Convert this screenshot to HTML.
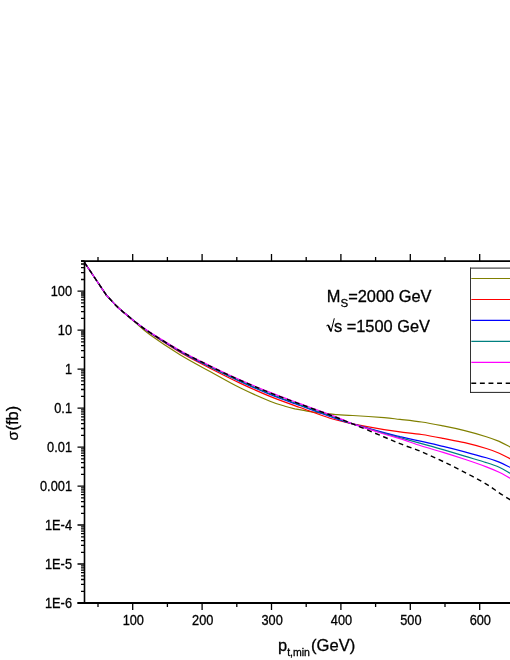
<!DOCTYPE html>
<html><head><meta charset="utf-8"><style>html,body{margin:0;padding:0;background:#fff;width:510px;height:660px;overflow:hidden}svg{will-change:transform}text{stroke:#000;stroke-width:0.3px}</style></head><body>
<svg width="510" height="660" viewBox="0 0 510 660" style="position:absolute;left:0;top:0">
<rect width="510" height="660" fill="#fff"/>
<path d="M84.5,262.5 L106.5,295.3 C108.1,297.0 112.7,302.2 116.0,305.5 C119.3,308.8 123.3,312.1 126.6,315.0 C129.9,317.9 132.1,319.8 136.0,323.1 C139.9,326.4 142.7,329.5 150.0,334.8 C157.3,340.1 170.0,348.6 180.0,354.7 C190.0,360.8 200.0,366.0 210.0,371.5 C220.0,377.0 230.0,382.9 240.0,387.8 C250.0,392.8 262.5,398.1 270.0,401.2 C277.5,404.3 280.8,404.9 285.0,406.2 C289.2,407.5 291.7,408.1 295.0,408.9 C298.3,409.6 300.6,410.0 305.0,410.7 C309.4,411.4 316.1,412.5 321.4,413.2 C326.7,413.9 331.8,414.2 337.0,414.6 C342.2,415.0 344.8,415.0 352.7,415.5 C360.6,416.0 376.2,417.0 384.1,417.6 C392.0,418.2 393.8,418.7 400.0,419.4 C406.2,420.1 414.4,420.9 421.6,422.0 C428.8,423.1 435.9,424.5 443.1,425.9 C450.3,427.3 457.5,428.8 464.7,430.6 C471.9,432.4 480.6,434.9 486.3,436.7 C492.1,438.5 495.2,439.7 499.2,441.4 C503.1,443.1 507.5,445.7 510.0,447.0 C512.5,448.3 513.3,448.9 514.0,449.3" fill="none" stroke="#808000" stroke-width="1.2" stroke-linejoin="round"/>
<path d="M84.5,262.5 L106.5,295.3 C108.1,297.0 112.7,302.2 116.0,305.5 C119.3,308.8 123.3,312.0 126.6,314.8 C129.9,317.6 132.1,319.5 136.0,322.5 C139.9,325.5 142.7,328.1 150.0,333.1 C157.3,338.0 170.0,346.4 180.0,352.3 C190.0,358.1 200.0,363.1 210.0,368.2 C220.0,373.3 230.0,378.4 240.0,383.1 C250.0,387.8 260.0,392.3 270.0,396.4 C280.0,400.5 290.0,403.9 300.0,407.5 C310.0,411.1 322.5,415.8 330.0,418.2 C337.5,420.6 341.2,421.1 345.0,422.1 C348.8,423.0 346.2,422.6 352.7,423.9 C359.2,425.2 376.2,428.3 384.1,429.6 C392.0,430.9 393.8,431.1 400.0,431.9 C406.2,432.7 414.4,433.4 421.6,434.5 C428.8,435.6 435.9,437.0 443.1,438.4 C450.3,439.8 457.5,441.0 464.7,442.7 C471.9,444.4 480.6,446.8 486.3,448.5 C492.1,450.2 495.2,451.5 499.2,453.2 C503.1,454.9 507.5,457.4 510.0,458.7 C512.5,460.0 513.3,460.8 514.0,461.2" fill="none" stroke="#ff0000" stroke-width="1.2" stroke-linejoin="round"/>
<path d="M84.5,262.5 L106.5,295.3 C108.1,297.0 112.7,302.2 116.0,305.5 C119.3,308.8 123.3,312.0 126.6,314.8 C129.9,317.6 132.1,319.5 136.0,322.5 C139.9,325.5 142.7,327.8 150.0,332.7 C157.3,337.5 170.0,345.7 180.0,351.4 C190.0,357.1 200.0,362.0 210.0,367.0 C220.0,372.0 230.0,376.8 240.0,381.4 C250.0,386.0 260.0,390.4 270.0,394.4 C280.0,398.4 290.0,401.8 300.0,405.5 C310.0,409.2 322.5,413.8 330.0,416.5 C337.5,419.2 341.2,420.3 345.0,421.6 C348.8,422.8 346.2,422.0 352.7,423.9 C359.2,425.8 376.2,430.6 384.1,432.7 C392.0,434.8 393.8,435.2 400.0,436.7 C406.2,438.1 414.4,439.8 421.6,441.4 C428.8,443.0 435.9,444.7 443.1,446.4 C450.3,448.1 457.5,449.9 464.7,451.8 C471.9,453.7 480.6,456.1 486.3,457.8 C492.1,459.5 495.2,460.5 499.2,462.1 C503.1,463.7 507.5,466.1 510.0,467.3 C512.5,468.5 513.3,469.0 514.0,469.3" fill="none" stroke="#0000ff" stroke-width="1.2" stroke-linejoin="round"/>
<path d="M84.5,262.5 L106.5,295.3 C108.1,297.0 112.7,302.2 116.0,305.5 C119.3,308.8 123.3,312.0 126.6,314.8 C129.9,317.6 132.1,319.5 136.0,322.5 C139.9,325.5 142.7,327.8 150.0,332.6 C157.3,337.3 170.0,345.4 180.0,351.1 C190.0,356.7 200.0,361.6 210.0,366.6 C220.0,371.6 230.0,376.4 240.0,380.9 C250.0,385.4 260.0,389.7 270.0,393.7 C280.0,397.7 290.0,401.2 300.0,404.9 C310.0,408.6 322.5,413.1 330.0,415.8 C337.5,418.5 341.2,419.9 345.0,421.3 C348.8,422.6 346.2,421.9 352.7,423.9 C359.2,425.9 376.2,431.0 384.1,433.3 C392.0,435.6 393.8,436.0 400.0,437.7 C406.2,439.4 414.4,441.6 421.6,443.6 C428.8,445.6 435.9,447.5 443.1,449.6 C450.3,451.7 457.5,453.9 464.7,456.1 C471.9,458.3 480.6,460.7 486.3,462.6 C492.1,464.5 495.2,465.5 499.2,467.3 C503.1,469.1 507.5,471.9 510.0,473.3 C512.5,474.7 513.3,475.1 514.0,475.5" fill="none" stroke="#008080" stroke-width="1.2" stroke-linejoin="round"/>
<path d="M84.5,262.5 L106.5,295.3 C108.1,297.0 112.7,302.2 116.0,305.5 C119.3,308.8 123.3,312.0 126.6,314.8 C129.9,317.6 132.1,319.6 136.0,322.5 C139.9,325.4 142.7,327.5 150.0,332.2 C157.3,336.8 170.0,344.8 180.0,350.4 C190.0,356.0 200.0,360.8 210.0,365.7 C220.0,370.6 230.0,375.4 240.0,379.8 C250.0,384.2 260.0,388.4 270.0,392.4 C280.0,396.4 290.0,399.9 300.0,403.6 C310.0,407.3 322.5,411.8 330.0,414.6 C337.5,417.4 341.2,419.1 345.0,420.7 C348.8,422.2 346.2,421.7 352.7,423.9 C359.2,426.1 376.2,431.6 384.1,434.0 C392.0,436.4 393.8,436.6 400.0,438.6 C406.2,440.6 414.4,443.7 421.6,446.0 C428.8,448.3 435.9,450.2 443.1,452.4 C450.3,454.6 457.5,456.9 464.7,459.3 C471.9,461.7 480.6,464.7 486.3,466.9 C492.1,469.1 495.2,470.4 499.2,472.3 C503.1,474.2 507.5,476.8 510.0,478.1 C512.5,479.5 513.3,480.0 514.0,480.4" fill="none" stroke="#ff00ff" stroke-width="1.2" stroke-linejoin="round"/>
<path d="M84.5,262.5 L106.5,295.3 C108.1,297.0 112.7,302.2 116.0,305.5 C119.3,308.8 123.3,312.0 126.6,314.8 C129.9,317.6 132.7,319.9 136.0,322.5 C139.3,325.1 141.4,326.9 146.7,330.4 C152.0,333.9 162.2,340.2 168.0,343.7 C173.8,347.2 174.4,347.9 181.4,351.6 C188.4,355.3 200.2,361.3 210.0,366.1 C219.8,370.9 230.0,375.8 240.0,380.2 C250.0,384.6 260.0,388.8 270.0,392.8 C280.0,396.8 290.0,400.3 300.0,404.0 C310.0,407.7 321.2,411.7 330.0,415.0 C338.8,418.3 343.7,420.2 352.7,423.9 C361.7,427.6 376.2,433.7 384.1,437.0 C392.0,440.3 393.8,441.2 400.0,443.7 C406.2,446.2 414.4,448.8 421.6,451.8 C428.8,454.8 435.9,458.1 443.1,461.5 C450.3,464.9 457.5,468.5 464.7,472.3 C471.9,476.1 480.6,480.7 486.3,484.1 C492.1,487.5 495.2,490.2 499.2,492.8 C503.1,495.4 507.5,498.1 510.0,499.7 C512.5,501.3 513.3,502.0 514.0,502.5" fill="none" stroke="#000" stroke-width="1.4" stroke-dasharray="4.9,3.7"/>
<path d="M84.5,603.0 L84.5,261.1" fill="none" stroke="#000" stroke-width="1.6"/>
<path d="M81.0,261.1 H512 M77.5,603.0 H512" fill="none" stroke="#000" stroke-width="1.8"/>
<path d="M98.0,261.1 v-4 M98.0,603.0 v4 M132.7,261.1 v-7 M132.7,603.0 v7 M167.4,261.1 v-4 M167.4,603.0 v4 M202.1,261.1 v-7 M202.1,603.0 v7 M236.8,261.1 v-4 M236.8,603.0 v4 M271.5,261.1 v-7 M271.5,603.0 v7 M306.2,261.1 v-4 M306.2,603.0 v4 M340.9,261.1 v-7 M340.9,603.0 v7 M375.6,261.1 v-4 M375.6,603.0 v4 M410.3,261.1 v-7 M410.3,603.0 v7 M445.0,261.1 v-4 M445.0,603.0 v4 M479.7,261.1 v-7 M479.7,603.0 v7 M84.5,603.0 h-7 M84.5,591.3 h-3.5 M84.5,584.4 h-3.5 M84.5,579.5 h-3.5 M84.5,575.8 h-3.5 M84.5,572.7 h-3.5 M84.5,570.1 h-3.5 M84.5,567.8 h-3.5 M84.5,565.8 h-3.5 M84.5,564.0 h-7 M84.5,552.3 h-3.5 M84.5,545.4 h-3.5 M84.5,540.6 h-3.5 M84.5,536.8 h-3.5 M84.5,533.7 h-3.5 M84.5,531.1 h-3.5 M84.5,528.8 h-3.5 M84.5,526.8 h-3.5 M84.5,525.0 h-7 M84.5,513.3 h-3.5 M84.5,506.5 h-3.5 M84.5,501.6 h-3.5 M84.5,497.8 h-3.5 M84.5,494.7 h-3.5 M84.5,492.1 h-3.5 M84.5,489.9 h-3.5 M84.5,487.9 h-3.5 M84.5,486.1 h-7 M84.5,474.3 h-3.5 M84.5,467.5 h-3.5 M84.5,462.6 h-3.5 M84.5,458.8 h-3.5 M84.5,455.7 h-3.5 M84.5,453.1 h-3.5 M84.5,450.9 h-3.5 M84.5,448.9 h-3.5 M84.5,447.1 h-7 M84.5,435.4 h-3.5 M84.5,428.5 h-3.5 M84.5,423.6 h-3.5 M84.5,419.9 h-3.5 M84.5,416.8 h-3.5 M84.5,414.2 h-3.5 M84.5,411.9 h-3.5 M84.5,409.9 h-3.5 M84.5,408.1 h-7 M84.5,396.4 h-3.5 M84.5,389.5 h-3.5 M84.5,384.7 h-3.5 M84.5,380.9 h-3.5 M84.5,377.8 h-3.5 M84.5,375.2 h-3.5 M84.5,372.9 h-3.5 M84.5,370.9 h-3.5 M84.5,369.1 h-7 M84.5,357.4 h-3.5 M84.5,350.6 h-3.5 M84.5,345.7 h-3.5 M84.5,341.9 h-3.5 M84.5,338.8 h-3.5 M84.5,336.2 h-3.5 M84.5,334.0 h-3.5 M84.5,332.0 h-3.5 M84.5,330.2 h-7 M84.5,318.4 h-3.5 M84.5,311.6 h-3.5 M84.5,306.7 h-3.5 M84.5,302.9 h-3.5 M84.5,299.8 h-3.5 M84.5,297.2 h-3.5 M84.5,295.0 h-3.5 M84.5,293.0 h-3.5 M84.5,291.2 h-7 M84.5,279.5 h-3.5 M84.5,272.6 h-3.5 M84.5,267.7 h-3.5 M84.5,264.0 h-3.5 M84.5,260.9 h-3.5" fill="none" stroke="#000" stroke-width="1.3"/>
<rect x="470.5" y="268.1" width="60" height="124.3" fill="#fff" stroke="none"/>
<path d="M470,268.1 H512" stroke="#222" stroke-width="1"/>
<path d="M470.5,267.6 V392.9" stroke="#333" stroke-width="1"/>
<path d="M470,392.4 H512" stroke="#222" stroke-width="1"/>
<path d="M471.3,278.5 H512" stroke="#808000" stroke-width="1.2"/>
<path d="M471.3,299.5 H512" stroke="#ff0000" stroke-width="1.2"/>
<path d="M471.3,320.4 H512" stroke="#0000ff" stroke-width="1.2"/>
<path d="M471.3,341.4 H512" stroke="#008080" stroke-width="1.2"/>
<path d="M471.3,362.45 H512" stroke="#ff00ff" stroke-width="1.2"/>
<path d="M471.3,383.3 H512" stroke="#000" stroke-width="1.4" stroke-dasharray="4.9,3.7"/>
<text transform="translate(72,295.8) scale(0.955,1.04)" text-anchor="end" font-family="Liberation Sans, sans-serif" font-size="13.4">100</text>
<text transform="translate(72,334.8) scale(0.955,1.04)" text-anchor="end" font-family="Liberation Sans, sans-serif" font-size="13.4">10</text>
<text transform="translate(72,373.8) scale(0.955,1.04)" text-anchor="end" font-family="Liberation Sans, sans-serif" font-size="13.4">1</text>
<text transform="translate(72,412.7) scale(0.955,1.04)" text-anchor="end" font-family="Liberation Sans, sans-serif" font-size="13.4">0.1</text>
<text transform="translate(72,451.7) scale(0.955,1.04)" text-anchor="end" font-family="Liberation Sans, sans-serif" font-size="13.4">0.01</text>
<text transform="translate(72,490.7) scale(0.955,1.04)" text-anchor="end" font-family="Liberation Sans, sans-serif" font-size="13.4">0.001</text>
<text transform="translate(72,529.6) scale(0.955,1.04)" text-anchor="end" font-family="Liberation Sans, sans-serif" font-size="13.4">1E-4</text>
<text transform="translate(72,568.6) scale(0.955,1.04)" text-anchor="end" font-family="Liberation Sans, sans-serif" font-size="13.4">1E-5</text>
<text transform="translate(72,607.6) scale(0.955,1.04)" text-anchor="end" font-family="Liberation Sans, sans-serif" font-size="13.4">1E-6</text>
<text transform="translate(133.3,625) scale(0.955,1.04)" text-anchor="middle" font-family="Liberation Sans, sans-serif" font-size="13.4">100</text>
<text transform="translate(202.7,625) scale(0.955,1.04)" text-anchor="middle" font-family="Liberation Sans, sans-serif" font-size="13.4">200</text>
<text transform="translate(272.1,625) scale(0.955,1.04)" text-anchor="middle" font-family="Liberation Sans, sans-serif" font-size="13.4">300</text>
<text transform="translate(341.5,625) scale(0.955,1.04)" text-anchor="middle" font-family="Liberation Sans, sans-serif" font-size="13.4">400</text>
<text transform="translate(410.9,625) scale(0.955,1.04)" text-anchor="middle" font-family="Liberation Sans, sans-serif" font-size="13.4">500</text>
<text transform="translate(480.3,625) scale(0.955,1.04)" text-anchor="middle" font-family="Liberation Sans, sans-serif" font-size="13.4">600</text>
<text x="326.8" y="301.7" font-family="Liberation Sans, sans-serif" font-size="16.4">M<tspan font-size="11.5" dy="4.9">S</tspan><tspan dy="-4.9">=2000 GeV</tspan></text>
<text x="333.9" y="331.7" font-family="Liberation Sans, sans-serif" font-size="16.4">s =1500 GeV</text>
<path d="M326.4,325.9 L328.1,324.9 M328.1,324.9 L331.0,331.6 L334.3,318.3" fill="none" stroke="#000" stroke-width="1"/>
<path d="M328.2,325.0 L330.9,331.2" fill="none" stroke="#000" stroke-width="1.7"/>
<text x="278" y="651.2" font-family="Liberation Sans, sans-serif" font-size="16.4">p<tspan font-size="10.5" dy="4.3">t,min</tspan><tspan dy="-4.3" dx="1.2" font-size="16.6">(GeV)</tspan></text>
<text transform="translate(17.9,440.5) rotate(-90)" font-family="Liberation Sans, sans-serif" font-size="16.4"><tspan font-size="15.2">σ</tspan><tspan dx="0.7">(fb)</tspan></text>
</svg>
</body></html>
